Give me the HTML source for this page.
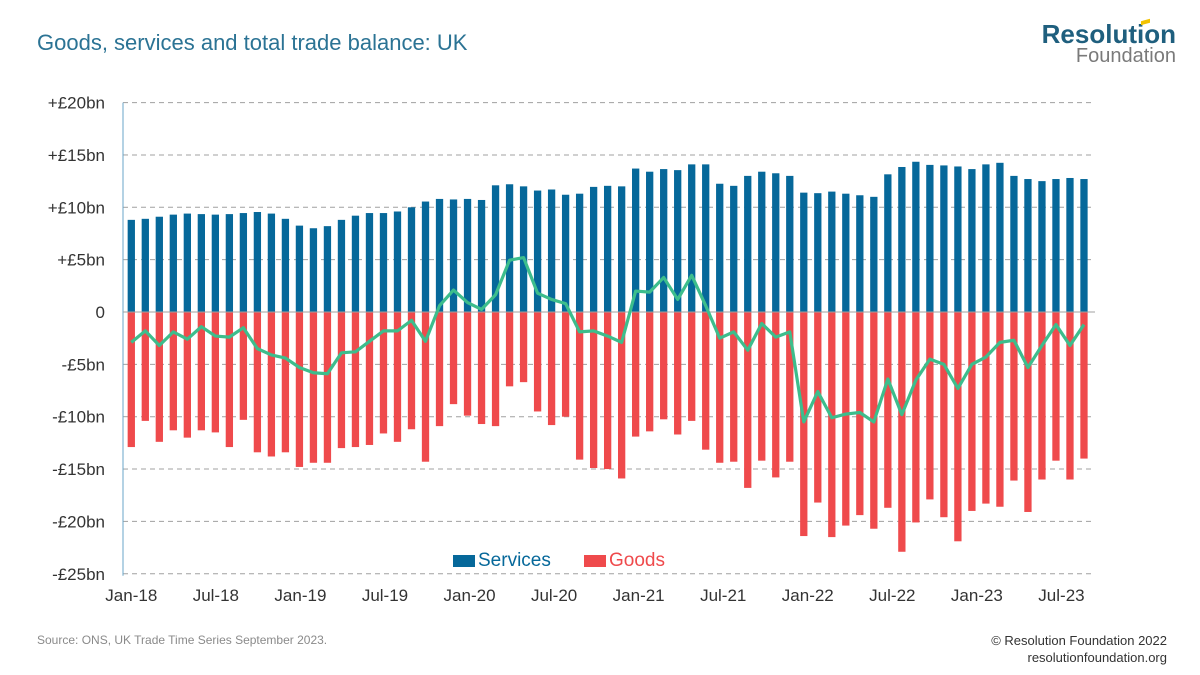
<!DOCTYPE html>
<html><head><meta charset="utf-8"><style>
body{margin:0;background:#fff;font-family:"Liberation Sans",sans-serif;}
#wrap{position:relative;width:1200px;height:675px;overflow:hidden;}
.t{position:absolute;white-space:nowrap;}
</style></head><body>
<div id="wrap">
<div class="t" style="left:37px;top:30px;font-size:22px;color:#2b7394;">Goods, services and total trade balance: UK</div>
<div class="t" style="right:24px;top:19px;font-size:26px;font-weight:bold;color:#1f5f7e;">Resolution</div>
<div style="position:absolute;left:1141px;top:20px;width:9px;height:4px;background:#f2c200;transform:skewY(-15deg);"></div>
<div class="t" style="right:24px;top:45px;font-size:20px;color:#7a7a7a;">Foundation</div>
<svg id="chart" width="1200" height="675" style="position:absolute;left:0;top:0"></svg>
<div class="t" style="left:37px;top:633px;font-size:12px;color:#8a8a8a;">Source: ONS, UK Trade Time Series September 2023.</div>
<div class="t" style="right:33px;top:632px;font-size:13px;color:#333;text-align:right;line-height:17px;">© Resolution Foundation 2022<br>resolutionfoundation.org</div>
</div>
<script>
const services=[8.8,8.9,9.1,9.3,9.4,9.35,9.3,9.35,9.45,9.55,9.4,8.9,8.25,8.0,8.2,8.8,9.2,9.45,9.45,9.6,10.0,10.55,10.8,10.75,10.8,10.7,12.1,12.2,12.0,11.6,11.7,11.2,11.3,11.95,12.05,12.0,13.7,13.4,13.65,13.55,14.1,14.1,12.25,12.05,13.0,13.4,13.25,13.0,11.4,11.35,11.5,11.3,11.15,11.0,13.15,13.85,14.35,14.05,14.0,13.9,13.65,14.1,14.25,13.0,12.7,12.5,12.7,12.8,12.7];
const goods=[-12.9,-10.4,-12.4,-11.3,-12.0,-11.3,-11.5,-12.9,-10.3,-13.4,-13.8,-13.4,-14.8,-14.4,-14.4,-13.0,-12.9,-12.7,-11.6,-12.4,-11.2,-14.3,-10.9,-8.8,-9.9,-10.7,-10.9,-7.1,-6.7,-9.5,-10.8,-10.0,-14.1,-14.9,-15.0,-15.9,-11.9,-11.4,-10.25,-11.7,-10.4,-13.15,-14.4,-14.3,-16.8,-14.2,-15.8,-14.3,-21.4,-18.2,-21.5,-20.4,-19.4,-20.7,-18.7,-22.9,-20.1,-17.9,-19.6,-21.9,-19.0,-18.3,-18.6,-16.1,-19.1,-16.0,-14.2,-16.0,-14.0];
const total=[-2.9,-1.8,-3.2,-1.9,-2.6,-1.4,-2.3,-2.4,-1.5,-3.5,-4.1,-4.4,-5.3,-5.8,-5.9,-3.9,-3.8,-2.8,-1.8,-1.8,-0.8,-2.8,0.6,2.1,0.9,0.25,1.65,4.95,5.2,1.8,1.2,0.8,-1.9,-1.8,-2.3,-2.9,2.0,1.9,3.3,1.2,3.5,0.6,-2.5,-1.9,-3.65,-1.1,-2.4,-1.9,-10.5,-7.6,-10.1,-9.75,-9.6,-10.5,-6.4,-9.8,-6.5,-4.5,-5.0,-7.3,-5.0,-4.3,-2.9,-2.7,-5.3,-3.2,-1.2,-3.2,-1.2];
const yTicks=[20,15,10,5,0,-5,-10,-15,-20,-25];
const yTickLabels=["+£20bn","+£15bn","+£10bn","+£5bn","0","-£5bn","-£10bn","-£15bn","-£20bn","-£25bn"];
const xTickIdx=[0,6,12,18,24,30,36,42,48,54,60,66];
const xTickLabels=["Jan-18","Jul-18","Jan-19","Jul-19","Jan-20","Jul-20","Jan-21","Jul-21","Jan-22","Jul-22","Jan-23","Jul-23"];

const NS="http://www.w3.org/2000/svg";
const svg=document.getElementById('chart');
const y=v=>312-v*10.47;
const x=i=>131.3+i*14.01;
function mk(tag,attrs){const e=document.createElementNS(NS,tag);for(const k in attrs)e.setAttribute(k,attrs[k]);svg.appendChild(e);return e;}
yTicks.forEach((v,k)=>{
  const l=mk('line',{x1:123,x2:1095,y1:y(v),y2:y(v),stroke:'#a0a0a0','stroke-width':1,'stroke-dasharray':v===0?'':'5,4'});
  
  
  const t=mk('text',{x:105,y:y(v)+6,'text-anchor':'end','font-size':17,fill:'#333','font-family':'Liberation Sans, sans-serif'});
  t.textContent=yTickLabels[k];
  
  
});
const ax=mk('line',{x1:123,x2:123,y1:y(20),y2:y(-25)+2,stroke:'#6aa6c8','stroke-width':1});


const bw=7.3;
services.forEach((v,i)=>{
  const r=mk('rect',{x:x(i)-bw/2,y:y(v),width:bw,height:y(0)-y(v),fill:'#06689a'});
  
  
});
goods.forEach((v,i)=>{
  const r=mk('rect',{x:x(i)-bw/2,y:y(0),width:bw,height:y(v)-y(0),fill:'#ef4a4c'});
  
  
});
const zl=mk('line',{x1:123,x2:1095,y1:y(0),y2:y(0),stroke:'#a0a0a0','stroke-width':1});


const pl=mk('polyline',{points:total.map((v,i)=>x(i)+','+y(v)).join(' '),fill:'none',stroke:'#3dbd8c','stroke-width':3.2,'stroke-linejoin':'round'});


xTickIdx.forEach((idx,k)=>{
  const t=mk('text',{x:x(idx)+k*0.5,y:601,'text-anchor':'middle','font-size':17,fill:'#333','font-family':'Liberation Sans, sans-serif'});
  t.textContent=xTickLabels[k];
  
  
});
[['Services','#06689a',453],['Goods','#ef4a4c',584]].forEach(([n,c,lx])=>{
  const g=mk('g',{});
  
  
  const r=document.createElementNS(NS,'rect');r.setAttribute('x',lx);r.setAttribute('y',555);r.setAttribute('width',22);r.setAttribute('height',12);r.setAttribute('fill',c);g.appendChild(r);
  const t=document.createElementNS(NS,'text');t.setAttribute('x',lx+25);t.setAttribute('y',566);t.setAttribute('font-size',19);t.setAttribute('fill',c);t.setAttribute('font-family','Liberation Sans, sans-serif');t.textContent=n;g.appendChild(t);
});
</script>
</body></html>
